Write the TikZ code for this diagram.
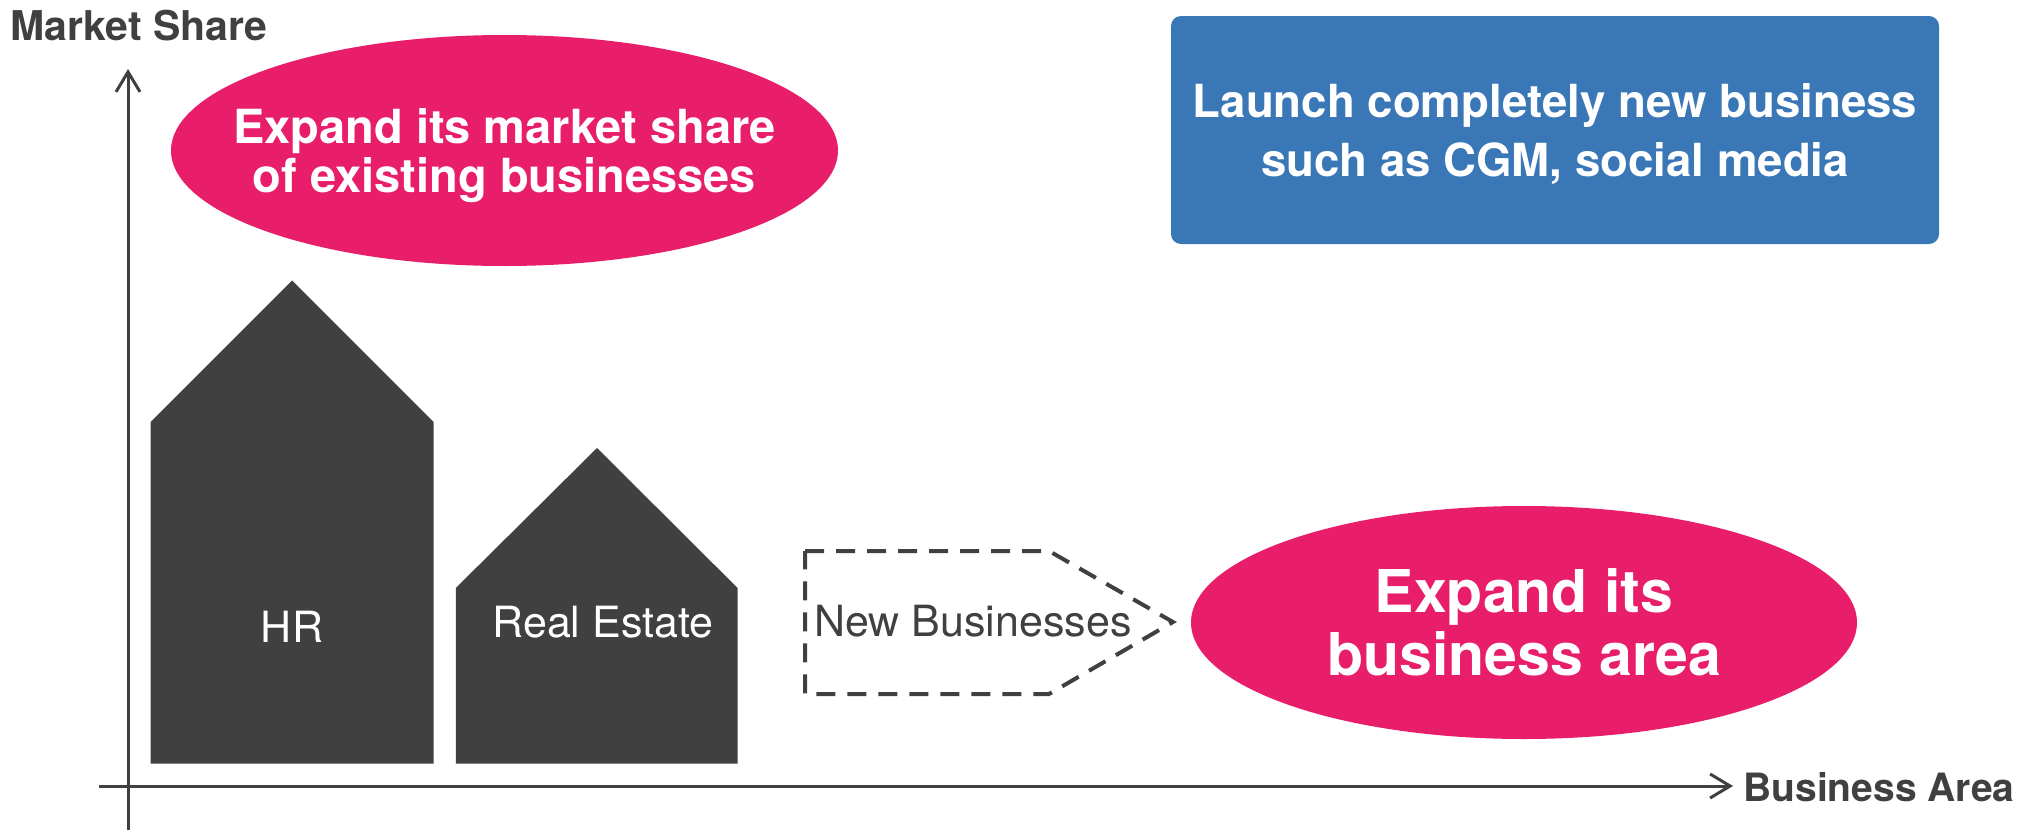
\documentclass[tikz,border=0pt]{standalone}
\usepackage{fontspec}
\setmainfont{TeX Gyre Heros}
\usepackage{tikz}
\usetikzlibrary{arrows.meta,shapes.geometric,positioning}
\definecolor{goalpink}{RGB}{232,30,107}
\definecolor{launchblue}{RGB}{58,119,183}
\definecolor{housegray}{RGB}{64,64,64}
\tikzset{
    axis/.style={-{Straight Barb[length=10pt, width=12pt]}, line width=1.5pt, housegray},
    goal/.style={ellipse, fill=goalpink, text=white, align=center, inner sep=-30pt, text depth=0pt},
    house/.style={fill=housegray},
    housename/.style={text=white, font=\fontsize{21.5}{26}\selectfont},
    axisname/.style={text=housegray, font=\bfseries\fontsize{20.5}{24}\selectfont},
    newbiz/.style={dash pattern=on 9.5pt off 6pt, line width=2pt, housegray}
}

\begin{document}
\begin{tikzpicture}[x=0.5pt, y=-0.5pt]
                    \useasboundingbox (0,0) rectangle (2036,830);
                    % axes
                    \coordinate (yfoot) at (128,830);
                    \coordinate (ytip) at (128,69);
                    \coordinate (xfoot) at (99,786);
                    \coordinate (xtip) at (1733,786);
                    \draw[axis] (yfoot) -- (ytip);
                    \draw[axis] (xfoot) -- (xtip);
                    \node[axisname, anchor=base west, inner sep=0pt] (share) at (10,40) {Market Share};
                    \node[axisname, anchor=base west, inner sep=0pt, font=\bfseries\fontsize{19.5}{24}\selectfont] (area) at (1743,801) {Business Area};
                    % houses
                    \fill[house] (150.6,763.5) -- (150.6,422) -- (292,280.5) -- (433.7,422) -- (433.7,763.5) -- cycle;
                    \fill[house] (455.8,763.5) -- (455.8,588) -- (597,448) -- (737.6,588) -- (737.6,763.5) -- cycle;
                    \node[housename] (HR) at (292,627) {HR};
                    \node[housename] (RE) at (603,622) {Real Estate};
                    % new businesses
                    \draw[newbiz] (805,551) -- (1049,551) -- (1173,622) -- (1049,694) -- (805,694) -- cycle;
                    \node[text=housegray, font=\fontsize{21.5}{26}\selectfont] (NB) at (973,621) {New Businesses};
                    % goals
                    \node[goal, minimum width=333.5pt, minimum height=115.5pt,
                          font=\bfseries\fontsize{23.5}{24.5}\selectfont] (share goal) at (504.5,150.5)
                          {Expand its market share\\of existing businesses};
                    \node[goal, minimum width=333pt, minimum height=116.5pt,
                          font=\bfseries\fontsize{29.5}{31.5}\selectfont] (area goal) at (1524,622.5)
                          {Expand its\\business area};
                    \node[fill=launchblue, rounded corners=5pt, minimum width=384pt, minimum height=114pt,
                          text=white, align=center, text depth=0pt, font=\bfseries\fontsize{22.8}{29.5}\selectfont] (launch) at (1555,130)
                          {Launch completely new business\\such as CGM, social media};
                \end{tikzpicture}
\end{document}
